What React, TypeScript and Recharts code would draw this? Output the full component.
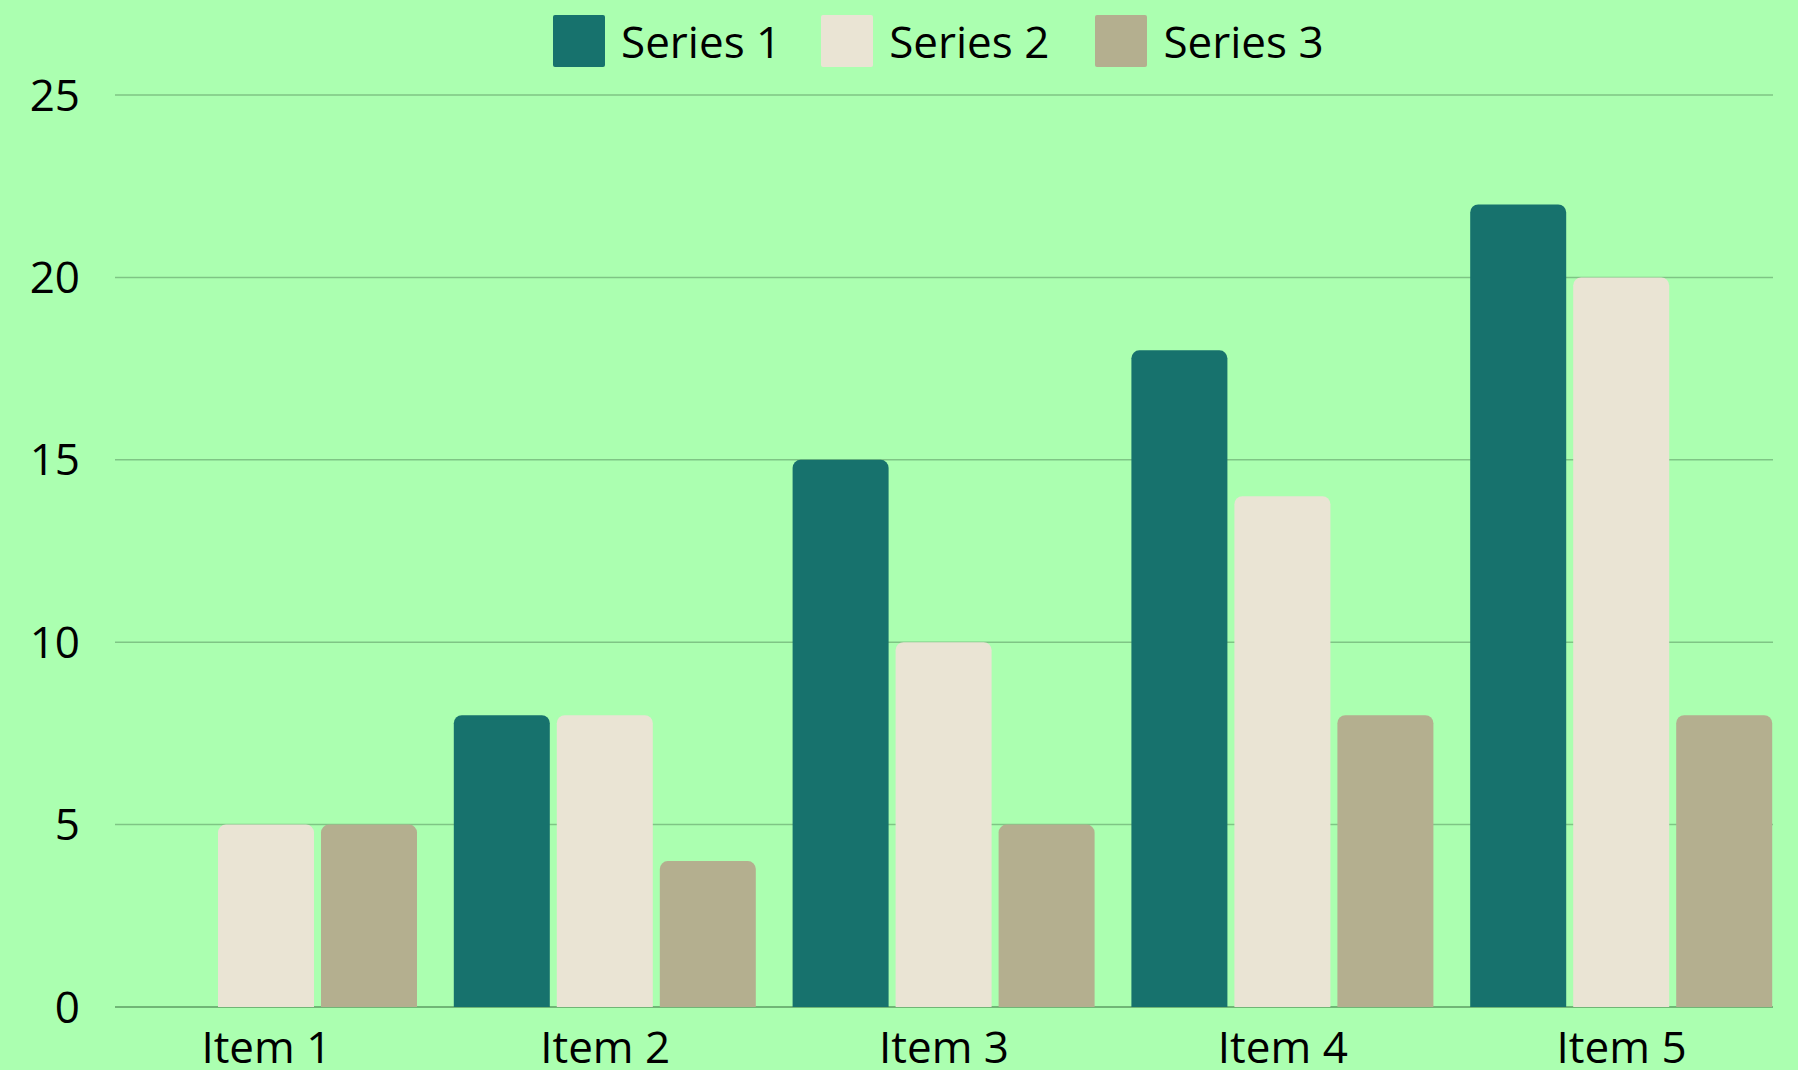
import { BarChart, Bar, XAxis, YAxis, CartesianGrid, Legend } from "recharts";

const categories = ["Item 1", "Item 2", "Item 3", "Item 4", "Item 5"];
const series1 = [0, 8, 15, 18, 22];
const series2 = [5, 8, 10, 14, 20];
const series3 = [5, 4, 5, 8, 8];
const yTicks = [0, 5, 10, 15, 20, 25];

const seriesInfo = [
  { key: "s1", name: "Series 1", color: "#17726d" },
  { key: "s2", name: "Series 2", color: "#eae4d4" },
  { key: "s3", name: "Series 3", color: "#b4af8f" },
];

const data = categories.map((name, i) => ({
  name,
  s1: series1[i],
  s2: series2[i],
  s3: series3[i],
}));

const FONT = "'Open Sans', sans-serif";
const legendGaps = [40, 46, 0];

function renderLegend() {
  return (
    <div style={{ display: "flex", alignItems: "center", fontFamily: FONT, fontSize: 44, color: "#000" }}>
      {seriesInfo.map((s, i) => (
        <div key={s.key} style={{ display: "flex", alignItems: "center", marginRight: legendGaps[i] }}>
          <div style={{ width: 52, height: 52, background: s.color, borderRadius: 2, marginRight: 16 }} />
          <span style={{ lineHeight: "52px" }}>{s.name}</span>
        </div>
      ))}
    </div>
  );
}

// grid line at 0 doubles as the x axis line, so bars sit on top of it
function gridLine(props: any) {
  const { x1, x2, y1, y2 } = props;
  const isBase = y1 > 1000;
  return (
    <line
      key={`g-${y1}`}
      x1={x1}
      x2={x2}
      y1={y1}
      y2={y2}
      stroke={isBase ? "#5c9e63" : "#7fc585"}
      strokeWidth={1.5}
    />
  );
}

export default function App() {
  return (
    <div style={{ width: 1798, height: 1070, background: "#abffb0", overflow: "hidden" }}>
      <style>{"body{margin:0}"}</style>
      <BarChart
        width={1798}
        height={1070}
        data={data}
        margin={{ top: 95, right: 25, left: 0, bottom: 0 }}
        barCategoryGap={18}
        barGap={7}
      >
        <CartesianGrid vertical={false} horizontal={gridLine} />
        <XAxis
          dataKey="name"
          height={63}
          padding={{ left: -18, right: -18 }}
          tickLine={false}
          tickSize={0}
          tickMargin={25}
          axisLine={false}
          tick={{ fill: "#000", fontSize: 44, fontFamily: FONT }}
          interval={0}
        />
        <YAxis
          width={115}
          domain={[0, 25]}
          ticks={yTicks}
          axisLine={false}
          tickLine={false}
          tickSize={0}
          tickMargin={35}
          tick={{ fill: "#000", fontSize: 44, fontFamily: FONT }}
        />
        <Legend
          layout="horizontal"
          verticalAlign="middle"
          align="center"
          content={renderLegend}
          wrapperStyle={{ top: 15, left: 553, width: "auto" }}
        />
        {seriesInfo.map((s) => (
          <Bar
            key={s.key}
            dataKey={s.key}
            name={s.name}
            fill={s.color}
            radius={[8, 8, 0, 0]}
            isAnimationActive={false}
          />
        ))}
      </BarChart>
    </div>
  );
}
